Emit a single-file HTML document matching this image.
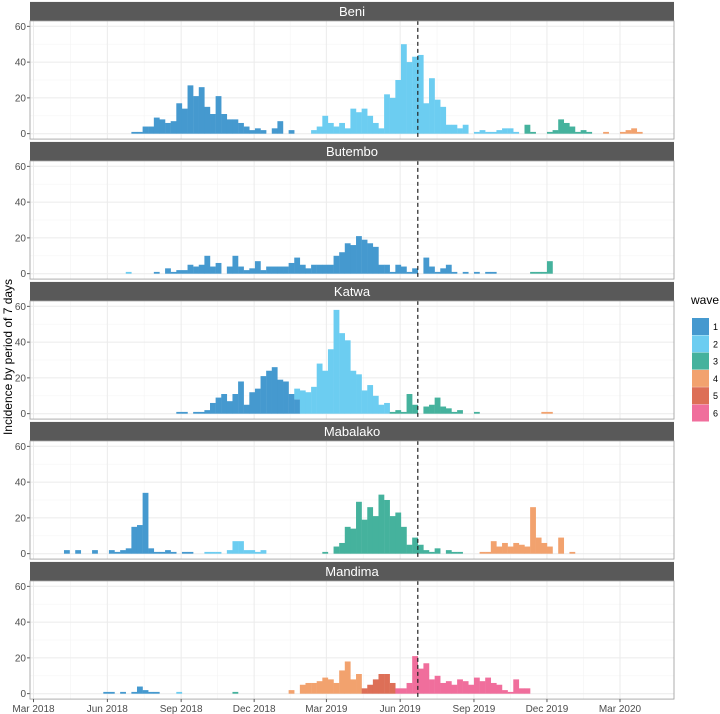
<!DOCTYPE html>
<html><head><meta charset="utf-8"><style>
body{margin:0;background:#fff;}
svg{display:block;font-family:"Liberation Sans",sans-serif;}
</style></head><body>
<svg id="chart" width="720" height="714" viewBox="0 0 720 714"></svg>
<script>
// ---- data ----
const panelNames = ["Beni","Butembo","Katwa","Mabalako","Mandima"];
const waveLabels = ["1","2","3","4","5","6"];
const waveColors = ["#4599cf","#6ccdf1","#45b29d","#f2a26e","#dd6f57","#f06e9c"];
const yTicks = [0,20,40,60];
const xTickDates = ["2018-03-01","2018-06-01","2018-09-01","2018-12-01","2019-03-01","2019-06-01","2019-09-01","2019-12-01","2020-03-01"];
const xTickLabels = ["Mar 2018","Jun 2018","Sep 2018","Dec 2018","Mar 2019","Jun 2019","Sep 2019","Dec 2019","Mar 2020"];
const firstWeekStart = "2018-03-11";
const cutoffDate = "2019-06-23";

const beniW1 = [1,1,4,4,9,8,6,7,17,14,27,21,26,15,11,21,11,8,8,6,4,2,3,2,0,3,7,0,2];
const beniW2 = [2,4,10,6,4,6,3,14,12,14,10,6,3,22,20,30,50,40,43,44,17,31,19,15,5,5,3,5,0,1,2,1,1,2,3,3,1];
const beniW3 = [5,1,0,0,1,2,8,6,4,1,2,1];
const beniW4 = [1,0,0,1,2,3,1];
const butemboW2 = [1];
const butemboW1 = [1,0,3,1,2,2,5,4,5,10,4,6,0,4,10,4,2,3,7,2,4,4,4,4,6,9,5,3,5,5,5,5,10,12,17,16,21,19,17,15,5,5,1,5,4,1,3,0,9,4,1,3,5,1,0,1,0,1,0,1,1];
const butemboW3 = [1,1,1,7];
const katwaW1 = [1,1,0,1,1,2,6,9,11,7,11,18,5,12,14,21,24,26,19,18,11,8];
const katwaW2 = [6,13,12,15,28,24,36,58,45,41,24,22,13,16,10,5,6];
const katwaW3 = [1,2,1,11,5,0,4,5,9,4,3,1,2,0,0,1];
const katwaW4 = [1,1];
const mabalakoW1 = [2,0,2,0,0,2,0,0,2,1,2,3,15,16,34,3,1,1,2,1,0,1,1];
const mabalakoW2 = [1,1,1,0,2,7,7,2,2,1,2];
const mabalakoW3 = [1,0,4,6,15,14,29,19,26,21,33,30,21,23,15,5,9,5,2,1,3,0,2,1,1];
const mabalakoW4 = [1,1,7,4,6,4,6,5,4,26,9,6,4,0,9,0,1];
const mandimaW1 = [1,1,0,1,0,1,4,2,1,1];
const mandimaW2 = [1];
const mandimaW3 = [1];
const mandimaW4 = [2,0,5,6,6,7,9,8,6,13,18,8,11];
const mandimaW5 = [3,5,8,11,11,6];
const mandimaW6 = [3,3,6,21,14,17,8,10,6,7,5,8,7,5,9,7,9,6,5,2,1,8,3,3];

const seriesPanel = [0,0,0,0, 1,1,1, 2,2,2,2, 3,3,3,3, 4,4,4,4,4,4];
const seriesWave  = [0,1,2,3, 1,0,2, 0,1,2,3, 0,1,2,3, 0,1,2,3,4,5];
const seriesStart = [16,48,86,100, 15,20,87, 24,45,62,89, 4,29,50,78, 11,24,34,44,57,63];
const seriesCounts = [beniW1,beniW2,beniW3,beniW4, butemboW2,butemboW1,butemboW3,
  katwaW1,katwaW2,katwaW3,katwaW4, mabalakoW1,mabalakoW2,mabalakoW3,mabalakoW4,
  mandimaW1,mandimaW2,mandimaW3,mandimaW4,mandimaW5,mandimaW6];

// ---- layout ----
const NS="http://www.w3.org/2000/svg";
const svg=document.getElementById('chart');
const L=30,R=674,PITCH=140,BASE0=133.7,UNIT=1.79,STRIP=19;
const originDay=Date.UTC(2018,2,1), PXDAY=0.8023, X0=33.5;
function dayOf(s){const p=s.split('-').map(Number);return (Date.UTC(p[0],p[1]-1,p[2])-originDay)/86400000;}
function xScale(day){return X0+day*PXDAY;}
function yScale(p,v){return BASE0+p*PITCH-v*UNIT;}
function mk(tag,attrs,parent){const e=document.createElementNS(NS,tag);for(const k in attrs)e.setAttribute(k,attrs[k]);(parent||svg).appendChild(e);return e;}
const weekDay0=dayOf(firstWeekStart);
const cutX=xScale(dayOf(cutoffDate));

panelNames.forEach((name,p)=>{
  const top=yScale(p,63), bot=yScale(p,-3);
  const g=mk('g',{});
  
  
  const bg=mk('rect',{x:L,y:top,width:R-L,height:bot-top,fill:'#fff'},g);
  
  
  for(let i=0;i<xTickDates.length-1;i++){
    const xm=(xScale(dayOf(xTickDates[i]))+xScale(dayOf(xTickDates[i+1])))/2;
    const ln=mk('line',{x1:xm,x2:xm,y1:top,y2:bot,stroke:'#f4f4f4','stroke-width':0.6},g);
    
    
  }
  [10,30,50].forEach(v=>{const ln=mk('line',{x1:L,x2:R,y1:yScale(p,v),y2:yScale(p,v),stroke:'#f4f4f4','stroke-width':0.6},g);
    
    });
  xTickDates.forEach(d=>{const x=xScale(dayOf(d));const ln=mk('line',{x1:x,x2:x,y1:top,y2:bot,stroke:'#ebebeb','stroke-width':1},g);
    
    });
  yTicks.forEach(v=>{const y=yScale(p,v);
    const ln=mk('line',{x1:L,x2:R,y1:y,y2:y,stroke:'#ebebeb','stroke-width':1},g);
    
    
    const tk=mk('line',{x1:L-3,x2:L,y1:y,y2:y,stroke:'#333','stroke-width':0.8},g);
    
    
    const t=mk('text',{x:L-4,y:y+3.5,'text-anchor':'end','font-size':10,fill:'#4d4d4d'},g);
    t.textContent=v;
    
    
  });
  const st=mk('rect',{x:L,y:top-STRIP,width:R-L,height:STRIP,fill:'#595959'},g);
  
  
  const stt=mk('text',{x:(L+R)/2,y:top-STRIP/2+4.5,'text-anchor':'middle','font-size':13,fill:'#fff'},g);
  stt.textContent=name;
  
  
});

const stackAcc={};
seriesCounts.forEach((arr,si)=>{
  const p=seriesPanel[si], w=seriesWave[si];
  arr.forEach((v,i)=>{
    if(!v) return;
    const k=seriesStart[si]+i;
    const key=p+'_'+k;
    const base=stackAcc[key]||0;
    stackAcc[key]=base+v;
    const x1=xScale(weekDay0+7*k), x2=xScale(weekDay0+7*k+7);
    const yTop=yScale(p,base+v), yBot=yScale(p,base);
    const r=mk('rect',{x:x1,y:yTop,width:x2-x1+0.2,height:yBot-yTop,fill:waveColors[w]});
    
    
  });
});

panelNames.forEach((name,p)=>{
  const top=yScale(p,63), bot=yScale(p,-3);
  const d=mk('line',{x1:cutX,x2:cutX,y1:top,y2:bot,stroke:'#222','stroke-width':1.2,'stroke-dasharray':'4,3'});
  
  
  const b=mk('rect',{x:L,y:top,width:R-L,height:bot-top,fill:'none',stroke:'#999','stroke-width':0.8});
  
  
});

const axBot=yScale(4,-3);
xTickDates.forEach((d,i)=>{
  const x=xScale(dayOf(d));
  const tk=mk('line',{x1:x,x2:x,y1:axBot,y2:axBot+3,stroke:'#333','stroke-width':0.8});
  
  
  const t=mk('text',{x:x,y:axBot+13,'text-anchor':'middle','font-size':10,fill:'#4d4d4d'});
  t.textContent=xTickLabels[i];
  
  
});

const yt=mk('text',{x:0,y:0,'text-anchor':'middle','font-size':12,fill:'#000',transform:'translate(12,357) rotate(-90)'});
yt.textContent='Incidence by period of 7 days';



const lg=mk('g',{});


const lt=mk('text',{x:691,y:304,'font-size':12,fill:'#000'},lg);
lt.textContent='wave';


waveLabels.forEach((lab,i)=>{
  const y=318+i*17.3;
  const r=mk('rect',{x:692,y:y,width:17,height:17,fill:waveColors[i]},lg);
  
  
  const t=mk('text',{x:713,y:y+12,'font-size':9,fill:'#000'},lg);
  t.textContent=lab;
  
  
});
</script>
</body></html>
